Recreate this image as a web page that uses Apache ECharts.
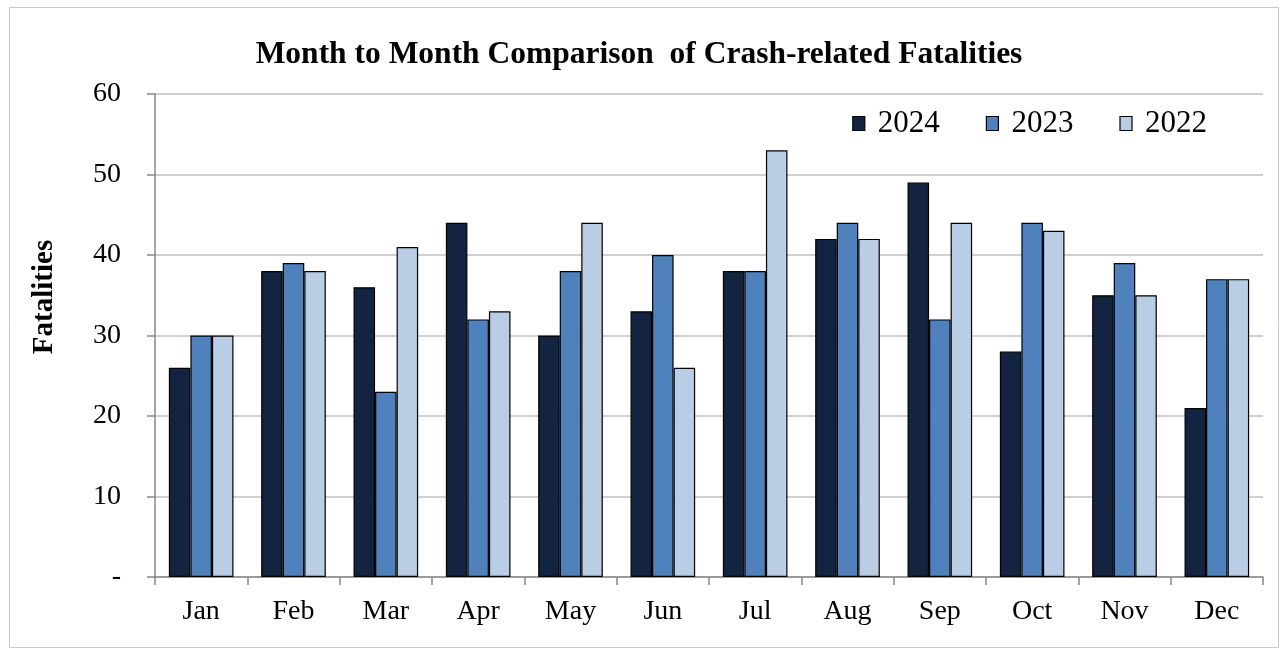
<!DOCTYPE html>
<html><head><meta charset="utf-8">
<script src="https://cdn.jsdelivr.net/npm/echarts@6/dist/echarts.min.js"></script>
<style>html,body{margin:0;padding:0;background:#fff}#c{width:1284px;height:652px}</style>
</head><body><div id="c"></div>
<script>
const months = ['Jan','Feb','Mar','Apr','May','Jun','Jul','Aug','Sep','Oct','Nov','Dec'];
const y2024 = [26,38,36,44,30,33,38,42,49,28,35,21];
const y2023 = [30,39,23,32,38,40,38,44,32,44,39,37];
const y2022 = [30,38,41,33,44,26,53,42,44,43,35,37];
const yTicks = [0,10,20,30,40,50,60];

const serif = '"Liberation Serif","Times New Roman",serif';
const chart = echarts.init(document.getElementById('c'));
function bar(name, data, color){
  return {name, type:'bar', data, barGap:'0%', barCategoryGap:'30%',
    itemStyle:{color, borderColor:'#000', borderWidth:1.2}};
}
chart.setOption({
  animation:false,
  graphic:[
    {type:'rect', shape:{x:9.5,y:7.5,width:1269,height:640}, style:{fill:'none',stroke:'#c8c8c8',lineWidth:1}, silent:true},
    {type:'text', x:45, y:297, rotation:Math.PI/2, silent:true,
      style:{text:'Fatalities', fontFamily:serif, fontWeight:'bold', fontSize:29, fill:'#000', align:'center', verticalAlign:'middle'}}
  ],
  title:{text:'Month to Month Comparison  of Crash-related Fatalities', left:634, top:34, textAlign:'center',
    textStyle:{fontFamily:serif, fontWeight:'bold', fontSize:31.5, color:'#000'}},
  legend:{top:103, right:72, itemWidth:12, itemHeight:14, itemGap:46, icon:'rect',
    textStyle:{fontFamily:serif, fontSize:31, color:'#000', padding:[0,0,0,8]},
    itemStyle:{borderColor:'#000', borderWidth:1.2}},
  grid:{left:155, right:21, top:94, bottom:75, containLabel:false},
  xAxis:{type:'category', data:months,
    axisLine:{lineStyle:{color:'#888', width:1.5}},
    axisTick:{show:true, length:8, lineStyle:{color:'#888', width:1.5}},
    axisLabel:{fontFamily:serif, fontSize:28, color:'#000', margin:21}},
  yAxis:{type:'value', min:0, max:60, interval:10,
    axisLine:{show:true, lineStyle:{color:'#888', width:1.5}},
    axisTick:{show:true, length:8, lineStyle:{color:'#888', width:1.5}},
    splitLine:{lineStyle:{color:'#c0c0c0', width:1.5}},
    axisLabel:{fontFamily:serif, fontSize:28, color:'#000', margin:34,
      formatter:v=> yTicks.indexOf(v)>=0 ? (v===0?'-':String(v)) : ''}},
  series:[bar('2024', y2024, '#12243f'), bar('2023', y2023, '#4f81bd'), bar('2022', y2022, '#b9cde5')]
});
</script></body></html>
